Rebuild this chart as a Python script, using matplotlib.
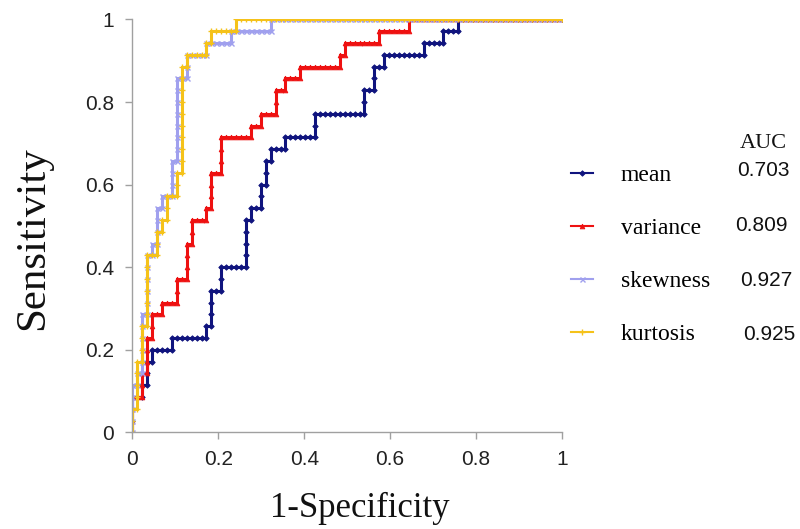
import numpy as np
import matplotlib
matplotlib.use("Agg")
import matplotlib.pyplot as plt

# ---- data: ROC steps (false-positive count where TP count rises, TP count reached) ----
n_neg = 87
n_pos = 35

mean_fp = [0, 2, 3, 4, 8, 15, 16, 18, 23, 24, 26, 27, 28, 31, 37, 47, 49, 51, 59, 63, 66]
mean_tp = [3, 4, 6, 7, 8, 9, 12, 14, 18, 19, 21, 23, 24, 25, 27, 29, 31, 32, 33, 34, 35]

variance_fp = [0, 2, 3, 4, 6, 9, 11, 12, 15, 16, 18, 24, 26, 29, 31, 34, 42, 43, 50, 56]
variance_tp = [3, 5, 8, 10, 11, 13, 16, 18, 19, 22, 25, 26, 27, 29, 30, 31, 32, 33, 34, 35]

skewness_fp = [0, 1, 2, 3, 4, 5, 6, 8, 9, 11, 15, 20, 28]
skewness_tp = [4, 5, 10, 15, 16, 19, 20, 23, 30, 32, 33, 34, 35]

kurtosis_fp = [0, 1, 2, 3, 5, 6, 7, 9, 10, 11, 15, 16, 21]
kurtosis_tp = [2, 6, 9, 15, 17, 18, 20, 22, 31, 32, 33, 34, 35]

names = ["mean", "variance", "skewness", "kurtosis"]
auc_labels = ["0.703", "0.809", "0.927", "0.925"]
x_ticks = [0, 0.2, 0.4, 0.6, 0.8, 1]
tick_labels = ["0", "0.2", "0.4", "0.6", "0.8", "1"]


def roc_points(fp_at, tp_to):
    # rebuild the ranked label sequence, then cumulative rates
    labels = []
    fp, tp = 0, 0
    for f, t in zip(fp_at, tp_to):
        labels += [0] * (f - fp) + [1] * (t - tp)
        fp, tp = f, t
    labels += [0] * (n_neg - fp)
    labels = np.array(labels)
    tpr = np.concatenate([[0.0], np.cumsum(labels) / n_pos])
    fpr = np.concatenate([[0.0], np.cumsum(1 - labels) / n_neg])
    return fpr, tpr


styles = [
    dict(color="#10147e", marker="D", ms=2.8, mew=0.6),
    dict(color="#ee1111", marker="^", ms=3.4, mew=0.6),
    dict(color="#a0a0ee", marker="x", ms=3.6, mew=1.0),
    dict(color="#f5c21a", marker="+", ms=4.6, mew=1.0),
]
series = [(mean_fp, mean_tp), (variance_fp, variance_tp),
          (skewness_fp, skewness_tp), (kurtosis_fp, kurtosis_tp)]

fig = plt.figure(figsize=(8.0, 5.29), dpi=100)
ax = fig.add_axes([0.1655, 0.1828, 0.537, 0.7804])

handles = []
for (f, t), st, nm in zip(series, styles, names):
    fpr, tpr = roc_points(f, t)
    ln, = ax.plot(fpr, tpr, lw=2.2, color=st["color"], marker=st["marker"],
                  ms=st["ms"], mew=st["mew"], mfc=st["color"], mec=st["color"],
                  label=nm, solid_joinstyle="miter")
    handles.append(ln)

ax.set_xlim(0, 1)
ax.set_ylim(0, 1)
ax.set_xticks(x_ticks)
ax.set_xticklabels(tick_labels)
ax.set_yticks(x_ticks)
ax.set_yticklabels(tick_labels)
for s in ["top", "right"]:
    ax.spines[s].set_visible(False)
for s in ["left", "bottom"]:
    ax.spines[s].set_color("#a0a0a0")
    ax.spines[s].set_linewidth(1.0)
ax.tick_params(direction="out", length=5, width=1, color="#a0a0a0",
               labelsize=15, labelcolor="#222222", pad=8)
for lbl in ax.get_xticklabels() + ax.get_yticklabels():
    lbl.set_family("Liberation Sans")

serif = "Liberation Serif"
fig.text(360 / 800, 1 - 508 / 529, "1-Specificity", family=serif, fontsize=25,
         ha="center", va="center", color="#111111")
fig.text(33 / 800, 1 - 238 / 529, "Sensitivity", family=serif, fontsize=31,
         ha="center", va="center", rotation=90, color="#111111")

leg = fig.legend(handles=handles, labels=names, loc="upper left",
                 bbox_to_anchor=(550 / 800, 1 - 143 / 529), frameon=False,
                 numpoints=1, handlelength=0.9, handletextpad=1.2,
                 labelspacing=1.34, prop=dict(family=serif, size=17))
for h in leg.legend_handles:
    h.set_linewidth(1.5)

fig.text(763 / 800, 1 - 143 / 529, "AUC", family=serif, fontsize=16,
         ha="center", va="center", color="#111111")
auc_x = [737, 735, 740, 743]
auc_y = [170, 225, 280, 334]
for xx, yy, a in zip(auc_x, auc_y, auc_labels):
    fig.text(xx / 800, 1 - yy / 529, a, family="Liberation Sans", fontsize=15,
             ha="left", va="center", color="#111111")

fig.savefig("out.png", dpi=100)
